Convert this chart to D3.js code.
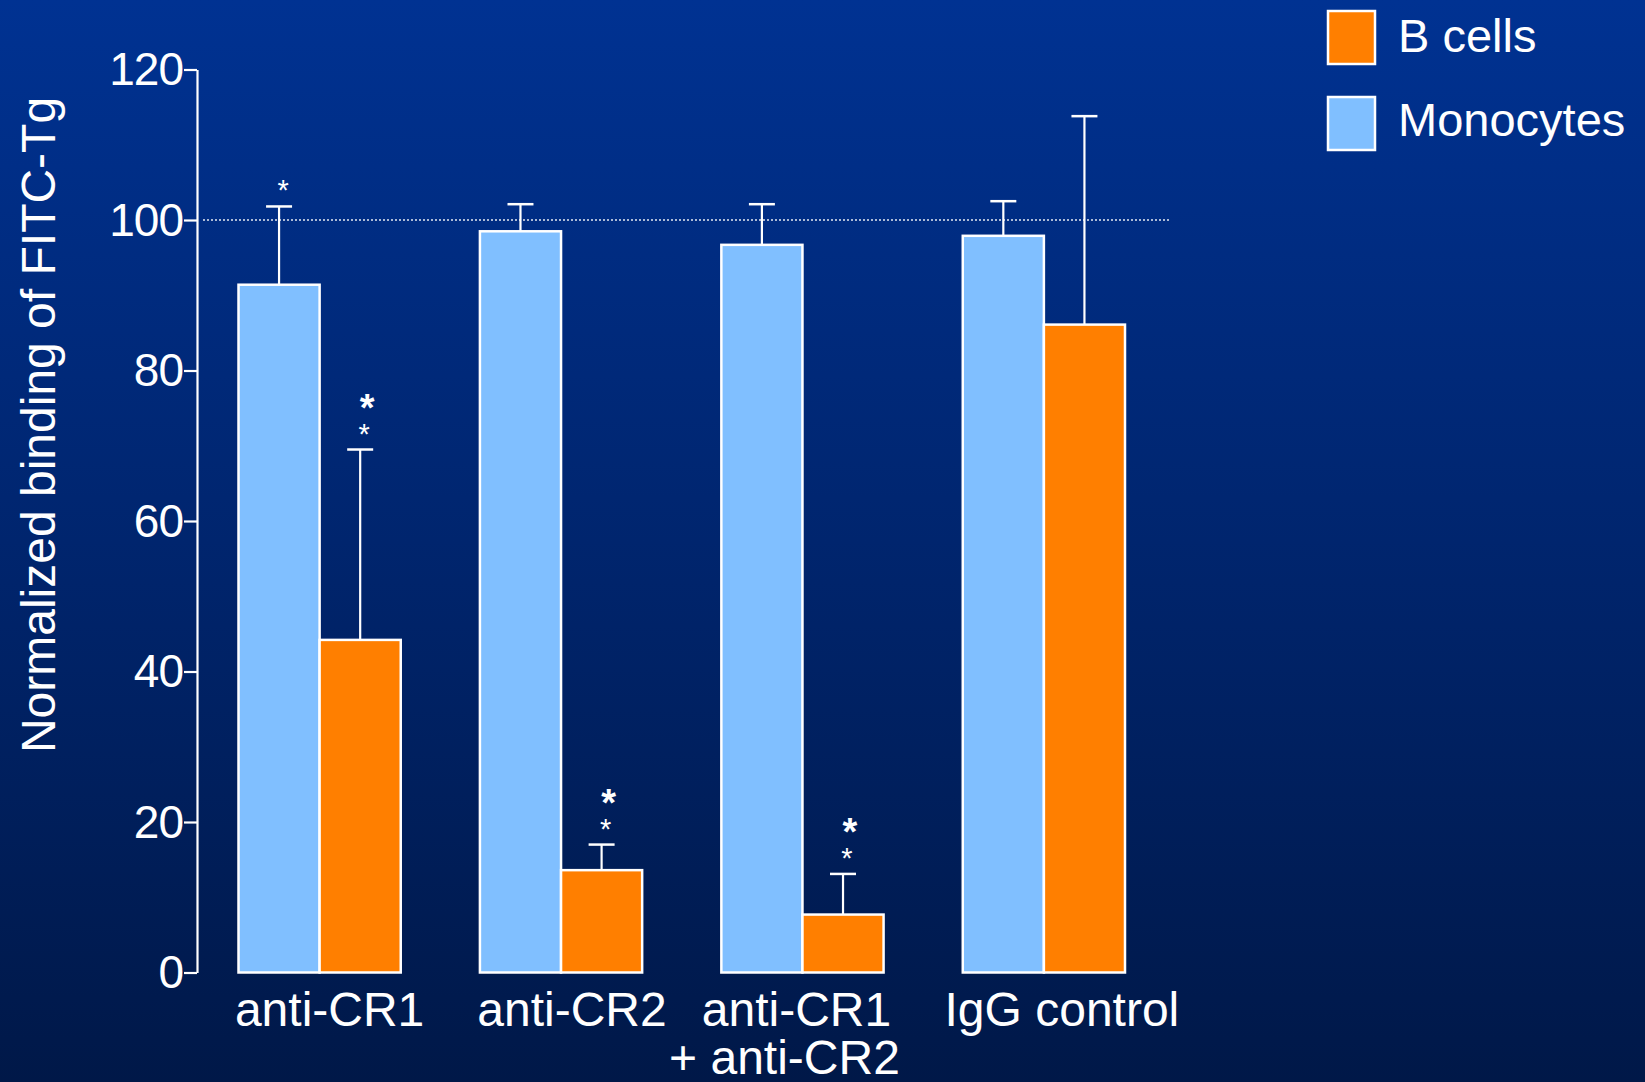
<!DOCTYPE html>
<html>
<head>
<meta charset="utf-8">
<script src="https://cdn.jsdelivr.net/npm/d3@7"></script>
<style>
  html, body { margin: 0; padding: 0; background: #001848; }
  svg { display: block; }
  text { font-family: "Liberation Sans", Arial, sans-serif; fill: #ffffff; }
</style>
</head>
<body>
<svg id="chart" width="1645" height="1082"></svg>
<script>
// ---- data ----
const categories = ["anti-CR1", "anti-CR2", "anti-CR1|+ anti-CR2", "IgG control"];
const seriesNames = ["Monocytes", "B cells"];
const monoValues = [91.4, 98.5, 96.7, 97.9];
const monoErrors = [10.4, 3.6, 5.4, 4.6];
const bValues = [44.2, 13.6, 7.7, 86.1];
const bErrors = [25.3, 3.4, 5.4, 27.7];
const monoStars = [1, 0, 0, 0];
const bStars = [2, 2, 2, 0];
const yTicks = [0, 20, 40, 60, 80, 100, 120];
const yTitle = "Normalized binding of FITC-Tg";
const referenceValue = 100;
const legendItems = ["B cells", "Monocytes"];

// ---- styles ----
const colors = { "Monocytes": "#80BFFF", "B cells": "#FF7F00" };
const labelDx = [10, 11, -6, 18];
const svg = d3.select("#chart");
const W = 1645, H = 1082;

// background gradient
const defs = svg.append("defs");
const grad = defs.append("linearGradient").attr("id", "bg")
  .attr("x1", 0).attr("y1", 0).attr("x2", 0).attr("y2", 1);
grad.append("stop").attr("offset", "0%").attr("stop-color", "#003292");
grad.append("stop").attr("offset", "50%").attr("stop-color", "#00256E");
grad.append("stop").attr("offset", "100%").attr("stop-color", "#001848");
svg.append("rect").attr("width", W).attr("height", H).attr("fill", "url(#bg)");

// scales
const y = d3.scaleLinear().domain([0, 120]).range([972.5, 69.5]);
const x = d3.scaleBand().domain(categories).range([238.5, 1125]).paddingInner(0.328).paddingOuter(0);
const xs = d3.scaleBand().domain(seriesNames).range([0, x.bandwidth()]);

// reference dotted line
const axisX = 197;
svg.append("line")
  .attr("x1", axisX + 6).attr("x2", 1170)
  .attr("y1", y(referenceValue)).attr("y2", y(referenceValue))
  .attr("stroke", "#ffffff").attr("stroke-width", 1.6)
  .attr("stroke-dasharray", "2,2").attr("opacity", 0.9);

// rows
const rows = categories.map((c, i) => ({
  cat: c,
  items: [
    { s: "Monocytes", v: monoValues[i], e: monoErrors[i], stars: monoStars[i] },
    { s: "B cells", v: bValues[i], e: bErrors[i], stars: bStars[i] }
  ]
}));

const g = svg.append("g");
const groups = g.selectAll("g.grp").data(rows).join("g")
  .attr("class", "grp")
  .attr("transform", d => `translate(${x(d.cat)},0)`);

// error bars
groups.selectAll("g.err").data(d => d.items).join("g").attr("class", "err")
  .each(function(d) {
    const cx = xs(d.s) + xs.bandwidth() / 2;
    const sel = d3.select(this);
    sel.append("line").attr("x1", cx).attr("x2", cx)
      .attr("y1", y(d.v)).attr("y2", y(d.v + d.e))
      .attr("stroke", "#fff").attr("stroke-width", 2.2);
    sel.append("line").attr("x1", cx - 13).attr("x2", cx + 13)
      .attr("y1", y(d.v + d.e)).attr("y2", y(d.v + d.e))
      .attr("stroke", "#fff").attr("stroke-width", 2.5);
  });

// bars
groups.selectAll("rect.bar").data(d => d.items).join("rect")
  .attr("class", "bar")
  .attr("x", d => xs(d.s))
  .attr("width", xs.bandwidth())
  .attr("y", d => y(d.v))
  .attr("height", d => y(0) - y(d.v))
  .attr("fill", d => colors[d.s])
  .attr("stroke", "#ffffff").attr("stroke-width", 2.5);

// significance stars
groups.selectAll("g.stars").data(d => d.items.filter(it => it.stars > 0)).join("g")
  .attr("class", "stars")
  .each(function(d) {
    const cx = xs(d.s) + xs.bandwidth() / 2 + 4;
    const top = y(d.v + d.e);
    const sel = d3.select(this);
    sel.append("text").attr("x", cx).attr("y", top - 22 + 16)
      .attr("text-anchor", "middle").attr("font-size", 29).text("*");
    if (d.stars > 1) {
      sel.append("text").attr("x", cx + 3).attr("y", top - 51 + 22)
        .attr("text-anchor", "middle").attr("font-size", 38).attr("font-weight", "bold").text("*");
    }
  });

// y axis
const yAxis = d3.axisLeft(y).tickValues(yTicks).tickSize(13).tickSizeOuter(0).tickPadding(1);
const ya = svg.append("g").attr("transform", `translate(${axisX},0)`).call(yAxis);
ya.select(".domain").attr("stroke", "#fff").attr("stroke-width", 2.2);
ya.selectAll(".tick line").attr("stroke", "#fff").attr("stroke-width", 2.2);
ya.selectAll(".tick text").attr("font-size", 46).attr("fill", "#fff")
  .attr("font-family", "'Liberation Sans', Arial, sans-serif").attr("dy", "0.33em")
  .attr("letter-spacing", "-1");

// x labels
const xl = svg.append("g");
categories.forEach((c, i) => {
  const lines = c.split("|");
  const cx = x(c) + x.bandwidth() / 2 + labelDx[i];
  const t = xl.append("text").attr("text-anchor", "middle").attr("font-size", 48)
    .attr("x", cx).attr("y", 1026);
  lines.forEach((ln, k) => {
    t.append("tspan").attr("x", k === 0 ? cx : cx - 12).attr("dy", k === 0 ? 0 : 48).text(ln);
  });
});

// y title
svg.append("text")
  .attr("transform", "translate(55,425) rotate(-90)")
  .attr("text-anchor", "middle").attr("font-size", 48).text(yTitle);

// legend
const lg = svg.append("g");
legendItems.forEach((name, i) => {
  lg.append("rect").attr("x", 1328).attr("y", 11 + i * 86).attr("width", 47).attr("height", 53)
    .attr("fill", colors[name]).attr("stroke", "#fff").attr("stroke-width", 2.5);
  lg.append("text").attr("x", 1398).attr("y", 52 + i * 84).attr("font-size", 47).text(name);
});
</script>
</body>
</html>
